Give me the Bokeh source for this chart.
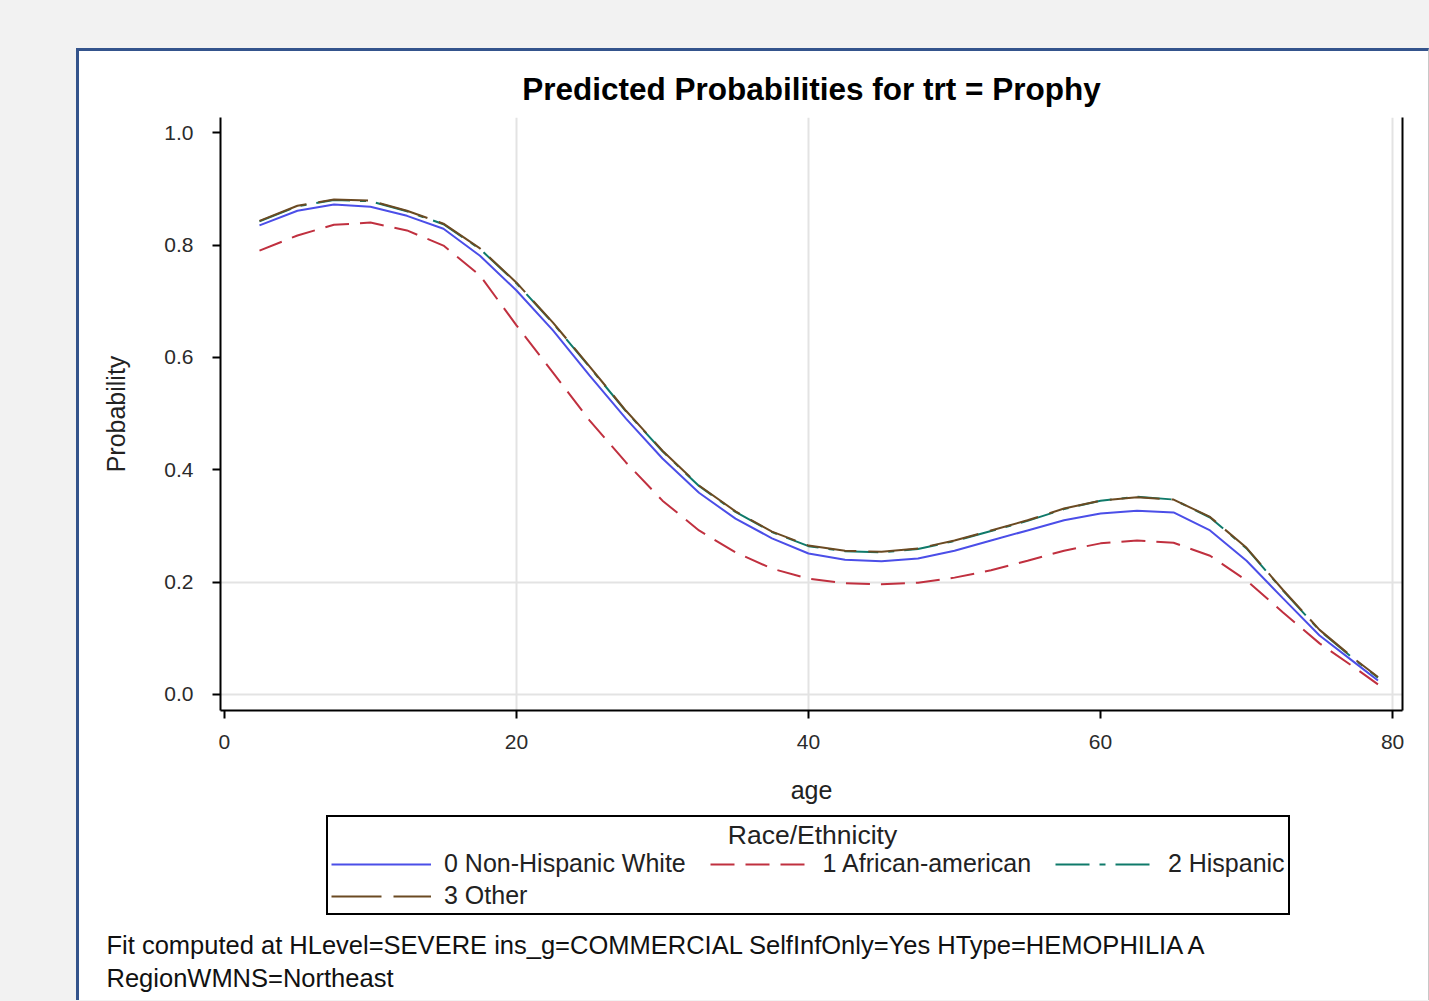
from bokeh.plotting import figure
from bokeh.layouts import column
from bokeh.models import (Range1d, LinearAxis, FixedTicker, Legend, Label,
                          LegendItem, PrintfTickFormatter, Title)
from bokeh.embed import file_html
from bokeh.resources import INLINE

# ---------------- data ----------------
age = [2.4, 5, 7.5, 10, 12.5, 15, 17.5, 20, 22.5, 25, 27.5, 30, 32.5, 35,
       37.5, 40, 42.5, 45, 47.5, 50, 52.5, 55, 57.5, 60, 62.5, 65, 67.5,
       70, 72.5, 75, 77.5, 79]
nh_white = [0.835, 0.861, 0.872, 0.868, 0.852, 0.829, 0.781, 0.719, 0.648,
            0.568, 0.491, 0.420, 0.359, 0.313, 0.278, 0.251, 0.240, 0.237,
            0.242, 0.256, 0.274, 0.292, 0.310, 0.322, 0.327, 0.324, 0.292,
            0.238, 0.171, 0.105, 0.055, 0.025]
afr_amer = [0.790, 0.817, 0.836, 0.840, 0.826, 0.799, 0.746, 0.657, 0.573,
            0.488, 0.413, 0.345, 0.292, 0.253, 0.224, 0.206, 0.198, 0.196,
            0.199, 0.208, 0.221, 0.238, 0.256, 0.269, 0.274, 0.270, 0.247,
            0.203, 0.146, 0.091, 0.046, 0.018]
hispanic = [0.842, 0.869, 0.880, 0.878, 0.860, 0.837, 0.793, 0.732, 0.661,
            0.583, 0.504, 0.433, 0.371, 0.325, 0.289, 0.264, 0.255, 0.253,
            0.259, 0.273, 0.291, 0.309, 0.330, 0.345, 0.352, 0.347, 0.315,
            0.260, 0.185, 0.114, 0.060, 0.030]
other = [0.843, 0.870, 0.881, 0.879, 0.861, 0.838, 0.794, 0.733, 0.662,
         0.584, 0.505, 0.434, 0.372, 0.326, 0.290, 0.265, 0.256, 0.254,
         0.260, 0.274, 0.292, 0.310, 0.331, 0.345, 0.351, 0.347, 0.316,
         0.261, 0.186, 0.115, 0.061, 0.031]
series_labels = ["0 Non-Hispanic White", "1 African-american", "2 Hispanic", "3 Other"]
x_ticks = [0, 20, 40, 60, 80]
y_ticks = [0.0, 0.2, 0.4, 0.6, 0.8, 1.0]

title_text = "Predicted Probabilities for trt = Prophy"
legend_title = "Race/Ethnicity"
foot1 = "Fit computed at HLevel=SEVERE ins_g=COMMERCIAL SelfInfOnly=Yes HType=HEMOPHILIA A"
foot2 = "RegionWMNS=Northeast"

# ---------------- layout ----------------
FONT = "Liberation Sans"
PAN_L, PAN_T, BORDER = 76, 48, 3
CX, CY = PAN_L + BORDER, PAN_T + BORDER       # page position of the canvases
W = 1349
SPLIT = 815                                    # page y where the lower canvas starts
HA = SPLIT - CY
HB = 1000 - SPLIT
FR_L, FR_R, FR_T, FR_B = 220, 1402, 117, 710   # page pixels of the plot frame
Q_FB = 925                                     # page y of the lower frame's bottom
X0, X1 = -0.27, 80.68
Y0, Y1 = -0.0285, 1.027

series = [nh_white, afr_amer, hispanic, other]
styles = [("#4b4ee8", "solid"), ("#c0303f", "24 11"),
          ("#0f7a6a", "34 10 6 10"), ("#6b4a22", "50 12")]

# ================= upper canvas: the plot =================
p = figure(width=W, height=HA, x_range=Range1d(X0, X1), y_range=Range1d(Y0, Y1),
           output_backend="svg", toolbar_location=None,
           min_border_left=FR_L - CX, min_border_right=W - (FR_R - CX),
           min_border_top=FR_T - CY, min_border_bottom=HA - (FR_B - CY))
p.background_fill_color = "white"
p.border_fill_color = "white"
p.outline_line_color = None

p.title.text = title_text
p.title.align = "center"
p.title.text_font = FONT
p.title.text_font_size = "31.5px"
p.title.text_font_style = "bold"
p.title.text_color = "black"
p.title.standoff = 22

for ax in (p.xaxis[0], p.yaxis[0]):
    ax.axis_line_color = "black"
    ax.axis_line_width = 2
    ax.major_tick_line_color = "black"
    ax.major_tick_line_width = 2
    ax.major_tick_out = 8
    ax.major_tick_in = 0
    ax.minor_tick_line_color = None
    ax.major_label_text_font = FONT
    ax.major_label_text_font_size = "21px"
    ax.major_label_text_color = "#2b2b2b"
    ax.axis_label_text_font = FONT
    ax.axis_label_text_font_size = "25px"
    ax.axis_label_text_font_style = "normal"
    ax.axis_label_text_color = "#222222"

p.xaxis.ticker = FixedTicker(ticks=x_ticks)
p.yaxis.ticker = FixedTicker(ticks=y_ticks)
p.yaxis.formatter = PrintfTickFormatter(format="%.1f")
p.xaxis.axis_label = "age"
p.yaxis.axis_label = "Probability"
p.xaxis.major_label_standoff = 16
p.xaxis.axis_label_standoff = 24
p.yaxis.major_label_standoff = 19
p.yaxis.axis_label_standoff = 31

right = LinearAxis(ticker=FixedTicker(ticks=[]), axis_line_color="black",
                   axis_line_width=2, major_tick_line_color=None,
                   minor_tick_line_color=None)
p.add_layout(right, "right")

p.xgrid.ticker = FixedTicker(ticks=[20, 40, 80])
p.ygrid.ticker = FixedTicker(ticks=[0.0, 0.2])
p.xgrid.grid_line_color = "#e3e3e3"
p.ygrid.grid_line_color = "#e3e3e3"
p.xgrid.grid_line_width = 2
p.ygrid.grid_line_width = 2

for vals, (col, dash) in zip(series, styles):
    p.line(age, vals, line_color=col, line_width=2, line_dash=dash)

# ================= lower canvas: legend and footnotes =================
# its frame lines up with the plot frame; ranges are in page pixels
q = figure(width=W, height=HB, x_range=Range1d(FR_L, FR_R),
           y_range=Range1d(Q_FB, SPLIT),
           output_backend="svg", toolbar_location=None,
           x_axis_type=None, y_axis_type=None,
           min_border_left=FR_L - CX, min_border_right=W - (FR_R - CX),
           min_border_top=0, min_border_bottom=1000 - Q_FB)
q.background_fill_color = "white"
q.border_fill_color = "white"
q.outline_line_color = None
q.xgrid.visible = False
q.ygrid.visible = False

# hidden copies of the series: they only lend their line styles to the legend
swatches = [q.line(age, vals, line_color=c, line_width=2, line_dash=d, visible=False)
            for vals, (c, d) in zip(series, styles)]
GAP = "\u00a0" * 3          # extra room after the first two columns
shown = [series_labels[0] + GAP, series_labels[1] + GAP, series_labels[2], series_labels[3]]
items = [LegendItem(label=lab, renderers=[r]) for lab, r in zip(shown, swatches)]
legend = Legend(items=items,
                location=(326 - FR_L, Q_FB - 915),
                orientation="horizontal", ncols=3,
                glyph_width=100, glyph_height=20, label_standoff=13,
                spacing=3, padding=3, margin=0,
                label_text_font=FONT, label_text_font_size="25px",
                label_text_color="#222222",
                title=legend_title, title_standoff=0,
                title_text_font=FONT, title_text_font_size="25px",
                title_text_alpha=0.0,
                inactive_fill_alpha=0.0,
                border_line_color="black", border_line_width=2,
                border_line_alpha=1.0, background_fill_alpha=0.0)
q.add_layout(legend, "center")

q.add_layout(Label(x=812, y=834, text=legend_title,
                   text_align="center", text_baseline="middle",
                   text_font=FONT, text_font_size="26.5px", text_color="#222222"))
for txt, so in ((foot1, 6), (foot2, 0)):
    q.add_layout(Title(text=txt, align="left", offset=106 - FR_L, standoff=so,
                       text_font=FONT, text_font_size="25.5px",
                       text_font_style="normal", text_color="#111111"), "below")

layout = column(p, q, spacing=0)
layout.margin = (PAN_T, 0, 0, PAN_L)
layout.styles = {"border-top": "3px solid #34548c", "border-left": "3px solid #34548c",
                 "border-right": "1px solid #c8c8c8", "background": "white"}

html = file_html(layout, INLINE)
html = html.replace("<head>", "<head><style>body{background:#f2f2f2;}</style>", 1)
open("out.html", "w").write(html)
